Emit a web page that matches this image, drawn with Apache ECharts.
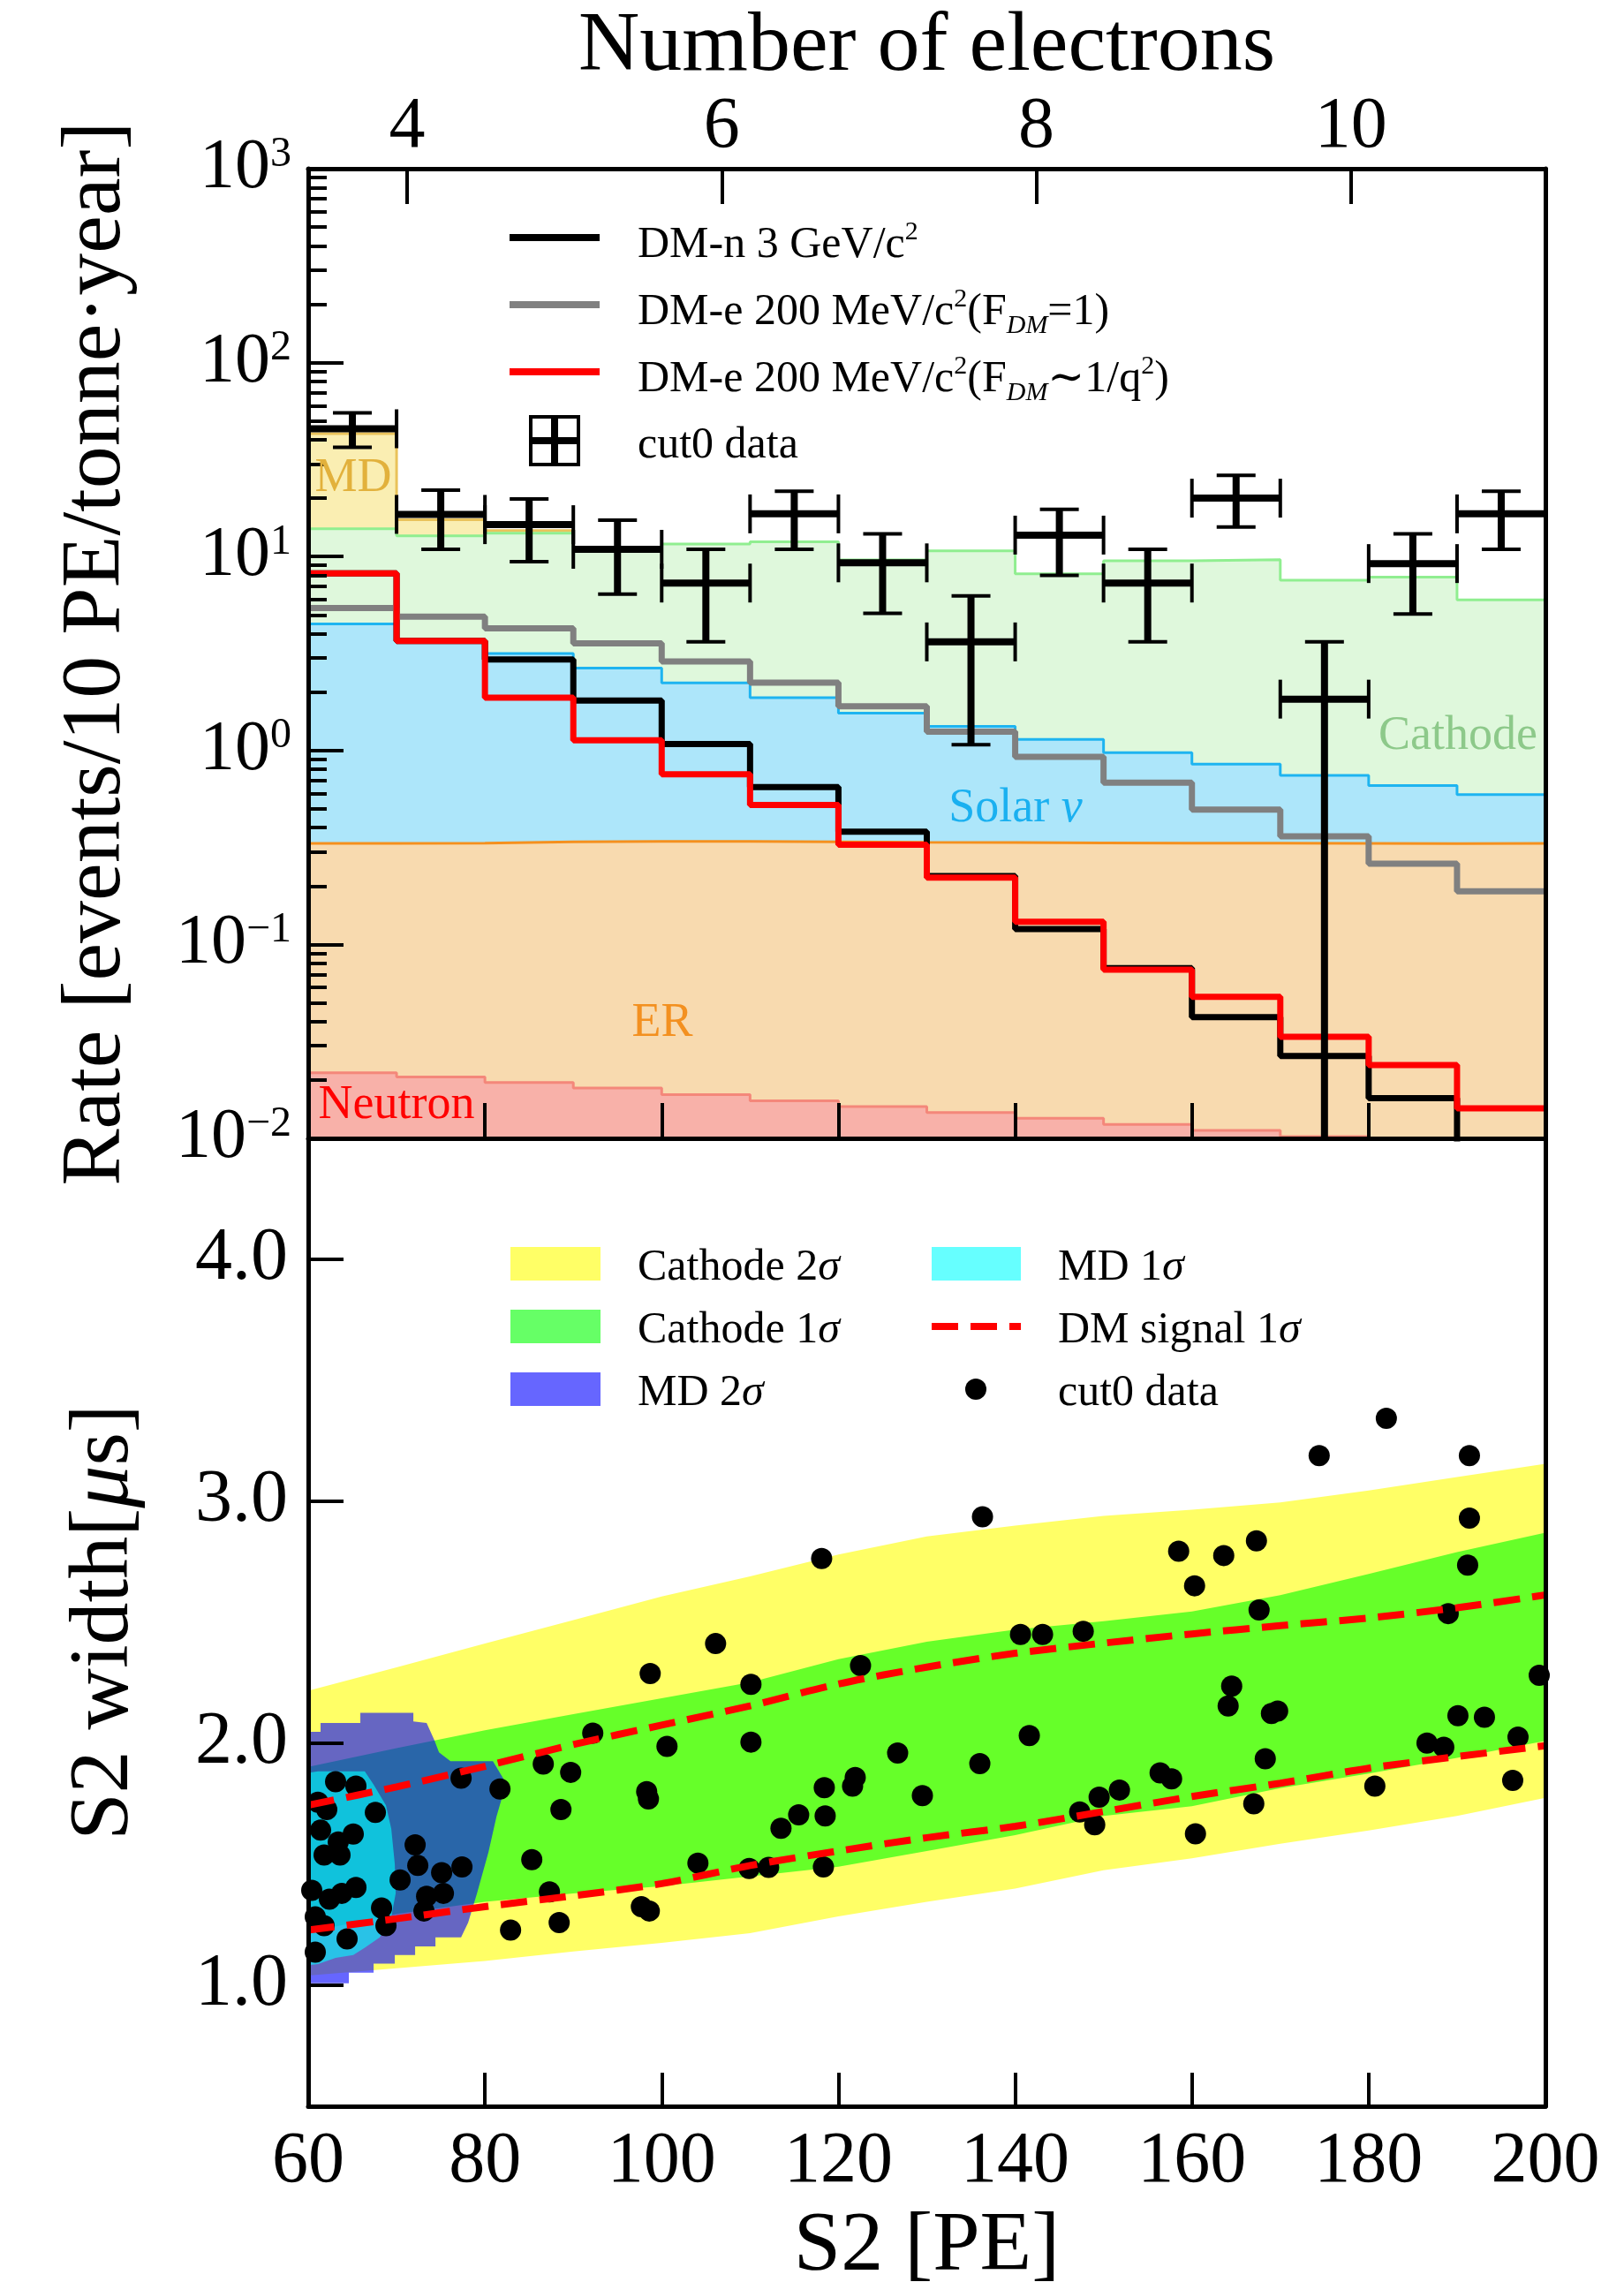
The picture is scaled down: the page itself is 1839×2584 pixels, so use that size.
<!DOCTYPE html>
<html>
<head>
<meta charset="utf-8">
<title>Rate spectrum and S2 width</title>
<script src="https://cdn.jsdelivr.net/npm/echarts@6/dist/echarts.min.js"></script>
<style>
html, body { margin: 0; padding: 0; background: #fff; }
#chart { width: 1839px; height: 2584px; }
</style>
</head>
<body>
<div id="chart"></div>
<script>
// ---------- upper panel: rate per 10 PE bin ----------
const binLeft = [60, 70, 80, 90, 100, 110, 120, 130, 140, 150, 160, 170, 180, 190];
const binCenter = [65, 75, 85, 95, 105, 115, 125, 135, 145, 155, 165, 175, 185, 195];
const pePerElectron = 17.8;
const electronTicks = [4, 6, 8, 10];
const rateTicks = [0.01, 0.1, 1, 10, 100, 1000];

// stacked background tops (events/10 PE/tonne/year)
const mdTop = [43, 15.5, 13.6];
const cathodeTop = [13.9, 12.8, 13.2, 11.2, 11.6, 11.9, 9.6, 10.7, 8.15, 9.5, 9.64, 7.55, 7.84, 5.98];
const solarTop = [4.49, 3.7, 3.16, 2.66, 2.23, 1.87, 1.56, 1.33, 1.14, 0.974, 0.85, 0.744, 0.66, 0.592];
const erTop = [0.332, 0.333, 0.338, 0.34, 0.34, 0.338, 0.336, 0.335, 0.334, 0.333, 0.333, 0.332, 0.331, 0.332];
const neutronTop = [0.0218, 0.0207, 0.0194, 0.0182, 0.0168, 0.0156, 0.0146, 0.0136, 0.0127, 0.0118, 0.011, 0.0102, 0.0095, 0.009];

// signal models
const dmNucleon3GeV = [8.18, 3.67, 2.95, 1.81, 1.08, 0.647, 0.381, 0.225, 0.12, 0.0755, 0.0422, 0.0266, 0.0161, 0.008];
const dmElectronF1 = [5.43, 4.9, 4.26, 3.57, 2.88, 2.24, 1.69, 1.25, 0.928, 0.682, 0.496, 0.361, 0.261, 0.188];
const dmElectronQ2 = [8.18, 3.67, 1.87, 1.13, 0.753, 0.523, 0.327, 0.221, 0.131, 0.0741, 0.0537, 0.0334, 0.0239, 0.0143];

// cut0 data with error bars
const dataRate = [45.6, 16.5, 14.6, 10.9, 7.3, 16.6, 9.28, 3.63, 12.9, 7.3, 20.0, 1.84, 9.2, 16.6];
const dataLow = [36.6, 10.9, 9.4, 6.4, 3.63, 10.9, 5.1, 1.07, 8.0, 3.63, 14.2, 0.001, 5.05, 10.9];
const dataHigh = [55, 22, 19.8, 15.4, 10.9, 21.7, 13.1, 6.27, 17.5, 10.9, 26.2, 3.63, 13.1, 21.7];

// ---------- lower panel: S2 width vs S2 ----------
const bandS2 = [60, 70, 80, 90, 100, 110, 120, 130, 140, 150, 160, 170, 180, 190, 200];
const cathode2Upper = [2.217, 2.314, 2.412, 2.509, 2.607, 2.69, 2.78, 2.855, 2.9, 2.94, 2.965, 2.995, 3.045, 3.1, 3.155];
const cathode2Lower = [1.04, 1.07, 1.1, 1.14, 1.175, 1.215, 1.285, 1.345, 1.4, 1.475, 1.525, 1.585, 1.64, 1.7, 1.775];
const cathode1Upper = [1.902, 1.98, 2.054, 2.12, 2.186, 2.252, 2.348, 2.42, 2.47, 2.505, 2.545, 2.612, 2.7, 2.79, 2.87];
const cathode1Lower = [1.22, 1.295, 1.345, 1.38, 1.41, 1.45, 1.49, 1.555, 1.62, 1.7, 1.74, 1.815, 1.875, 1.94, 2.01];
const dmSignalUpper = [1.744, 1.82, 1.905, 1.995, 2.075, 2.155, 2.245, 2.315, 2.372, 2.414, 2.452, 2.486, 2.518, 2.56, 2.613];
const dmSignalLower = [1.228, 1.275, 1.325, 1.37, 1.42, 1.495, 1.555, 1.61, 1.657, 1.718, 1.78, 1.835, 1.897, 1.945, 1.99];

// MD contours (outline points)
const md2S2 = [60, 61.4, 61.4, 65.9, 65.9, 71.9, 71.9, 73.4, 74.3, 74.8, 76.1, 80.9, 82.4, 81.3, 80.4, 79.1, 78.1, 77.3, 74.4, 74.4, 72.1, 72.1, 69.8, 69.8, 67.4, 67.4, 64.6, 64.6, 60];
const md2Width = [2.047, 2.047, 2.084, 2.084, 2.126, 2.126, 2.09, 2.084, 2.011, 1.963, 1.926, 1.926, 1.835, 1.696, 1.55, 1.38, 1.259, 1.198, 1.198, 1.161, 1.161, 1.125, 1.125, 1.089, 1.089, 1.052, 1.052, 1.008, 1.008];
const md1S2 = [60, 61.1, 66.4, 67.4, 68.8, 69.4, 69.8, 69.9, 69.4, 68.1, 66.4, 65.1, 63.1, 61.1, 60];
const md1Width = [1.878, 1.884, 1.884, 1.829, 1.744, 1.647, 1.501, 1.38, 1.283, 1.198, 1.155, 1.125, 1.113, 1.088, 1.083];

// cut0 events
const cutS2 = [106.1, 98.7, 110.1, 110.1, 92.2, 100.6, 86.6, 89.7, 77.3, 81.7, 88.6, 98.3, 98.5, 63.1, 65.4, 61.1, 62.1, 67.6, 61.4, 65.1, 63.4, 61.8, 63.6, 72.1, 72.4, 75.1, 77.4, 70.4, 60.4, 65.4, 63.8, 62.4, 73.4, 75.3, 73.1, 68.3, 60.8, 61.8, 68.8, 64.4, 60.8, 85.3, 104.1, 109.9, 87.3, 97.7, 98.6, 82.9, 88.4,
  136.3, 118.1, 158.5, 122.5, 140.6, 143.1, 147.7, 126.7, 141.6, 136.0, 118.4, 121.9, 121.6, 129.5, 115.5, 113.5, 118.5, 112.1, 118.3, 147.3, 149.5, 151.8, 149.0, 156.4, 157.7,
  182.0, 174.4, 191.4, 191.4, 163.6, 167.3, 160.3, 191.2, 167.6, 189.0, 199.3, 164.5, 164.1, 169.0, 169.7, 190.1, 193.1, 186.6, 188.5, 196.9, 168.3, 180.7, 196.3, 167.0, 160.4];
const cutWidth = [2.412, 2.288, 2.244, 2.005, 2.042, 1.987, 1.914, 1.88, 1.856, 1.811, 1.726, 1.8, 1.77, 1.841, 1.823, 1.756, 1.726, 1.714, 1.641, 1.625, 1.592, 1.538, 1.538, 1.58, 1.495, 1.465, 1.489, 1.435, 1.392, 1.404, 1.38, 1.356, 1.368, 1.38, 1.307, 1.319, 1.283, 1.246, 1.246, 1.192, 1.137, 1.519, 1.505, 1.483, 1.386, 1.325, 1.307, 1.228, 1.259,
  2.936, 2.764, 2.794, 2.321, 2.45, 2.45, 2.463, 1.96, 2.032, 1.916, 1.817, 1.859, 1.823, 1.784, 1.704, 1.649, 1.7, 1.487, 1.489, 1.716, 1.777, 1.807, 1.663, 1.878, 1.853,
  3.343, 3.189, 3.189, 2.931, 2.776, 2.837, 2.651, 2.736, 2.551, 2.536, 2.281, 2.236, 2.154, 2.123, 2.133, 2.114, 2.108, 2.001, 1.984, 2.026, 1.936, 1.823, 1.847, 1.75, 1.626];
const widthTicks = [1, 2, 3, 4];

const serif = "'Liberation Serif', 'DejaVu Serif', serif";
const chart = echarts.init(document.getElementById('chart'));

// minor ticks of the log axis (2..9 per decade)
const minorRateTicks = [];
for (let e = -2; e < 3; e++) {
  for (let k = 2; k < 10; k++) minorRateTicks.push(+(k * Math.pow(10, e)).toPrecision(3));
}

// histogram as step line: left edges + closing right edge
function stepData(vals) {
  const d = vals.map((v, i) => [binLeft[i], v]);
  d.push([binLeft[vals.length - 1] + 10, vals[vals.length - 1]]);
  return d;
}

function bgSeries(name, vals, line, fill, z) {
  return {
    name, type: 'line', step: 'end', xAxisIndex: 0, yAxisIndex: 0, z, silent: true,
    symbol: 'none', data: stepData(vals),
    lineStyle: { color: line, width: 3 },
    areaStyle: { color: fill, opacity: 1, origin: 'start' }
  };
}

function dmSeries(name, vals, color, z) {
  return {
    name, type: 'line', step: 'end', xAxisIndex: 0, yAxisIndex: 0, z, silent: true,
    symbol: 'none', data: stepData(vals),
    lineStyle: { color, width: 7 }
  };
}

function polySeries(name, xs, ys, fill, z) {
  const pts = xs.map((x, i) => [x, ys[i]]);
  return {
    name, type: 'custom', xAxisIndex: 2, yAxisIndex: 3, z, silent: true, data: [[xs[0], ys[0]]],
    renderItem: (params, api) => ({
      type: 'polygon',
      shape: { points: pts.map(p => api.coord(p)) },
      style: { fill: fill }
    })
  };
}

function bandSeries(name, upper, lower, fill, z) {
  const xs = bandS2.concat(bandS2.slice().reverse());
  const ys = upper.concat(lower.slice().reverse());
  return polySeries(name, xs, ys, fill, z);
}

const supLabel = { '-2': '−2', '-1': '−1', '0': '0', '1': '1', '2': '2', '3': '3' };

const option = {
  animation: false,
  backgroundColor: '#fff',
  textStyle: { fontFamily: serif },
  grid: [
    { left: 349, top: 191, width: 1401, height: 1098, outerBoundsMode: 'none' },
    { left: 349, top: 1289, width: 1401, height: 1096, outerBoundsMode: 'none' }
  ],
  xAxis: [
    {
      gridIndex: 0, type: 'value', min: 60, max: 200, interval: 20, position: 'bottom', z: 10,
      axisLine: { show: true, lineStyle: { color: '#000', width: 5 } },
      axisTick: { inside: true, length: 40, lineStyle: { color: '#000', width: 4 } },
      axisLabel: { show: false }, splitLine: { show: false }
    },
    {
      gridIndex: 0, type: 'value', min: 60 / pePerElectron, max: 200 / pePerElectron, position: 'top', z: 10,
      axisLine: { show: true, lineStyle: { color: '#000', width: 5 } },
      axisTick: { inside: true, length: 40, customValues: electronTicks, lineStyle: { color: '#000', width: 4 } },
      axisLabel: { customValues: electronTicks, fontSize: 82, fontFamily: serif, color: '#000', margin: 6,
        formatter: v => String(Math.round(v)) },
      splitLine: { show: false },
      name: 'Number of electrons', nameLocation: 'middle', nameGap: 76,
      nameTextStyle: { fontSize: 96, fontFamily: serif, color: '#000' }
    },
    {
      gridIndex: 1, type: 'value', min: 60, max: 200, interval: 20, position: 'bottom', z: 10,
      axisLine: { show: true, lineStyle: { color: '#000', width: 5 } },
      axisTick: { inside: true, length: 38, lineStyle: { color: '#000', width: 4 } },
      axisLabel: { fontSize: 82, fontFamily: serif, color: '#000', margin: 22 },
      splitLine: { show: false },
      name: 'S2 [PE]', nameLocation: 'middle', nameGap: 112,
      nameTextStyle: { fontSize: 96, fontFamily: serif, color: '#000' }
    }
  ],
  yAxis: [
    {
      gridIndex: 0, type: 'log', logBase: 10, min: 0.01, max: 1000, position: 'left', z: 10,
      axisLine: { show: true, lineStyle: { color: '#000', width: 5 } },
      axisTick: { inside: true, length: 40, customValues: rateTicks, lineStyle: { color: '#000', width: 4 } },
      axisLabel: {
        customValues: rateTicks, margin: 19, color: '#000',
        formatter: v => '{b|10}{s|' + supLabel[String(Math.round(Math.log10(v)))] + '}',
        rich: {
          b: { fontSize: 80, fontFamily: serif, color: '#000' },
          s: { fontSize: 48, fontFamily: serif, color: '#000', verticalAlign: 'top' }
        }
      },
      splitLine: { show: false },
      name: 'Rate [events/10 PE/tonne·year]', nameLocation: 'middle', nameGap: 191, nameRotate: 90,
      nameTextStyle: { fontSize: 96, fontFamily: serif, color: '#000' }
    },
    {
      gridIndex: 0, type: 'log', logBase: 10, min: 0.01, max: 1000, position: 'left', z: 10,
      axisLine: { show: false },
      axisTick: { inside: true, length: 21, customValues: minorRateTicks, lineStyle: { color: '#000', width: 4 } },
      axisLabel: { show: false }, splitLine: { show: false }
    },
    {
      gridIndex: 0, type: 'value', position: 'right', z: 10,
      axisLine: { show: true, lineStyle: { color: '#000', width: 5 } },
      axisTick: { show: false }, axisLabel: { show: false }, splitLine: { show: false }
    },
    {
      gridIndex: 1, type: 'value', min: 0.5, max: 4.5, position: 'left', z: 10,
      axisLine: { show: true, lineStyle: { color: '#000', width: 5 } },
      axisTick: { inside: true, length: 40, customValues: widthTicks, lineStyle: { color: '#000', width: 4 } },
      axisLabel: { customValues: widthTicks, fontSize: 84, fontFamily: serif, color: '#000', margin: 23,
        formatter: v => v.toFixed(1) },
      splitLine: { show: false },
      name: 'S2 width[{i|μ}s]', nameLocation: 'middle', nameGap: 182, nameRotate: 90,
      nameTextStyle: { fontSize: 96, fontFamily: serif, color: '#000',
        rich: { i: { fontSize: 96, fontFamily: serif, fontStyle: 'italic', color: '#000' } } }
    },
    {
      gridIndex: 1, type: 'value', position: 'right', z: 10,
      axisLine: { show: true, lineStyle: { color: '#000', width: 5 } },
      axisTick: { show: false }, axisLabel: { show: false }, splitLine: { show: false }
    }
  ],
  series: [
    // upper panel backgrounds (drawn top-down so lower components overlay)
    bgSeries('MD', mdTop, '#e9c25a', '#faeeb2', 1),
    bgSeries('Cathode', cathodeTop, '#90ee90', '#dff8dc', 1),
    bgSeries('Solar ν', solarTop, '#1eb4f0', '#ade6fa', 1),
    bgSeries('ER', erTop, '#f5901e', '#f8daaf', 1),
    bgSeries('Neutron', neutronTop, '#f4877a', '#f8b1a9', 1),
    dmSeries('DM-n 3 GeV/c2', dmNucleon3GeV, '#000000', 3),
    dmSeries('DM-e 200 MeV/c2 (F=1)', dmElectronF1, '#808080', 3),
    dmSeries('DM-e 200 MeV/c2 (F~1/q2)', dmElectronQ2, '#ff0000', 3),
    {
      name: 'cut0 data', type: 'custom', xAxisIndex: 0, yAxisIndex: 0, z: 5, silent: true, clip: true,
      data: binCenter.map((x, i) => [x, dataRate[i], dataLow[i], dataHigh[i]]),
      encode: { x: 0, y: 1 },
      renderItem: (params, api) => {
        const x = api.value(0), y = api.value(1), lo = api.value(2), hi = api.value(3);
        const c = api.coord([x, y]);
        const l = api.coord([x - 5, y]);
        const r = api.coord([x + 5, y]);
        const t = api.coord([x, hi]);
        const b = api.coord([x, Math.max(lo, rateTicks[0])]);
        const cap = 22;
        const thick = { stroke: '#000', lineWidth: 8 };
        const thin = { stroke: '#000', lineWidth: 4 };
        const kids = [
          { type: 'line', shape: { x1: c[0], y1: t[1], x2: c[0], y2: b[1] }, style: thick },
          { type: 'line', shape: { x1: l[0], y1: c[1], x2: r[0], y2: c[1] }, style: thick },
          { type: 'line', shape: { x1: c[0] - cap, y1: t[1], x2: c[0] + cap, y2: t[1] }, style: thin },
          { type: 'line', shape: { x1: l[0], y1: c[1] - cap, x2: l[0], y2: c[1] + cap }, style: thin },
          { type: 'line', shape: { x1: r[0], y1: c[1] - cap, x2: r[0], y2: c[1] + cap }, style: thin }
        ];
        if (lo >= rateTicks[0]) {
          kids.push({ type: 'line', shape: { x1: c[0] - cap, y1: b[1], x2: c[0] + cap, y2: b[1] }, style: thin });
        }
        return { type: 'group', children: kids };
      }
    },

    // lower panel
    bandSeries('Cathode 2σ', cathode2Upper, cathode2Lower, 'rgba(255,255,0,0.6)', 1),
    bandSeries('Cathode 1σ', cathode1Upper, cathode1Lower, 'rgba(0,255,0,0.6)', 2),
    polySeries('MD 2σ', md2S2, md2Width, 'rgba(0,0,255,0.6)', 3),
    polySeries('MD 1σ', md1S2, md1Width, 'rgba(0,255,255,0.6)', 4),
    {
      name: 'cut0 events', type: 'scatter', xAxisIndex: 2, yAxisIndex: 3, z: 5, silent: true,
      symbol: 'circle', symbolSize: 24, itemStyle: { color: '#000', opacity: 1 },
      data: cutS2.map((x, i) => [x, cutWidth[i]])
    },
    {
      name: 'DM signal 1σ upper', type: 'line', xAxisIndex: 2, yAxisIndex: 3, z: 6, silent: true,
      symbol: 'none', smooth: 0.3, data: bandS2.map((x, i) => [x, dmSignalUpper[i]]),
      lineStyle: { color: '#ff0000', width: 8, type: [30, 14] }
    },
    {
      name: 'DM signal 1σ lower', type: 'line', xAxisIndex: 2, yAxisIndex: 3, z: 6, silent: true,
      symbol: 'none', smooth: 0.3, data: bandS2.map((x, i) => [x, dmSignalLower[i]]),
      lineStyle: { color: '#ff0000', width: 8, type: [30, 14] }
    }
  ]
};

// ---------- legends and region labels ----------
const rich = {
  sup: { fontSize: 30, fontFamily: serif, color: '#000', verticalAlign: 'top' },
  sub: { fontSize: 30, fontFamily: serif, color: '#000', fontStyle: 'italic', verticalAlign: 'bottom' },
  i: { fontSize: 50, fontFamily: serif, color: '#000', fontStyle: 'italic' }
};
function label(x, y, text, size, color, extraRich) {
  return {
    type: 'text', x, y, z: 100, silent: true,
    style: { text, fontSize: size, fontFamily: serif, fill: color, align: 'left', verticalAlign: 'middle',
      lineHeight: Math.round(size * 1.2), rich: extraRich || rich }
  };
}
function centered(x, y, text, size, color, extraRich) {
  const g = label(x, y, text, size, color, extraRich);
  g.style.align = 'center';
  return g;
}
const gfx = [];
// upper legend
const upRows = [272, 348, 424, 499];
[['#000000', 'DM-n 3 GeV/c{sup|2}'],
 ['#808080', 'DM-e 200 MeV/c{sup|2}(F{sub|DM}=1)'],
 ['#ff0000', 'DM-e 200 MeV/c{sup|2}(F{sub|DM}∼1/q{sup|2})']].forEach((row, i) => {
  gfx.push({ type: 'line', z: 100, silent: true, shape: { x1: 577, y1: upRows[i] - 3, x2: 679, y2: upRows[i] - 3 },
    style: { stroke: row[0], lineWidth: 8 } });
  gfx.push(label(722, upRows[i] + 6, row[1], 50, '#000'));
});
(function () {
  const cx = 628, cy = upRows[3], h = 27;
  gfx.push({ type: 'rect', z: 100, silent: true, shape: { x: cx - h, y: cy - h, width: 2 * h, height: 2 * h },
    style: { fill: 'none', stroke: '#000', lineWidth: 4 } });
  gfx.push({ type: 'line', z: 100, silent: true, shape: { x1: cx, y1: cy - h, x2: cx, y2: cy + h }, style: { stroke: '#000', lineWidth: 8 } });
  gfx.push({ type: 'line', z: 100, silent: true, shape: { x1: cx - h, y1: cy, x2: cx + h, y2: cy }, style: { stroke: '#000', lineWidth: 8 } });
  gfx.push(label(722, cy + 6, 'cut0 data', 50, '#000'));
})();

// lower legend
const lowRows = [1431, 1502, 1573];
[['rgba(255,255,0,0.6)', 'Cathode 2{i|σ}'],
 ['rgba(0,255,0,0.6)', 'Cathode 1{i|σ}'],
 ['rgba(0,0,255,0.6)', 'MD 2{i|σ}']].forEach((row, i) => {
  gfx.push({ type: 'rect', z: 100, silent: true, shape: { x: 578, y: lowRows[i] - 19, width: 102, height: 38 },
    style: { fill: row[0] } });
  gfx.push(label(722, lowRows[i] + 5, row[1], 50, '#000'));
});
gfx.push({ type: 'rect', z: 100, silent: true, shape: { x: 1055, y: lowRows[0] - 19, width: 101, height: 38 },
  style: { fill: 'rgba(0,255,255,0.6)' } });
gfx.push(label(1198, lowRows[0] + 5, 'MD 1{i|σ}', 50, '#000'));
gfx.push({ type: 'line', z: 100, silent: true, shape: { x1: 1055, y1: lowRows[1], x2: 1156, y2: lowRows[1] },
  style: { stroke: '#ff0000', lineWidth: 8, lineDash: [30, 14] } });
gfx.push(label(1198, lowRows[1] + 5, 'DM signal 1{i|σ}', 50, '#000'));
gfx.push({ type: 'circle', z: 100, silent: true, shape: { cx: 1105, cy: lowRows[2], r: 12 }, style: { fill: '#000' } });
gfx.push(label(1198, lowRows[2] + 5, 'cut0 data', 50, '#000'));

// region labels in the upper panel
const italicRich = (color) => ({ i: { fontSize: 54, fontFamily: serif, fontStyle: 'italic', color } });
gfx.push(centered(400, 542, 'MD', 54, '#e2b13c'));
gfx.push(centered(1651, 834, 'Cathode', 54, '#8dc98a'));
gfx.push(centered(1150, 916, 'Solar {i|ν}', 54, '#1ab0f0', italicRich('#1ab0f0')));
gfx.push(centered(750, 1159, 'ER', 54, '#f39020'));
gfx.push(centered(449, 1252, 'Neutron', 54, '#ff0000'));

option.graphic = { elements: gfx };
chart.setOption(option);
</script>
</body>
</html>
